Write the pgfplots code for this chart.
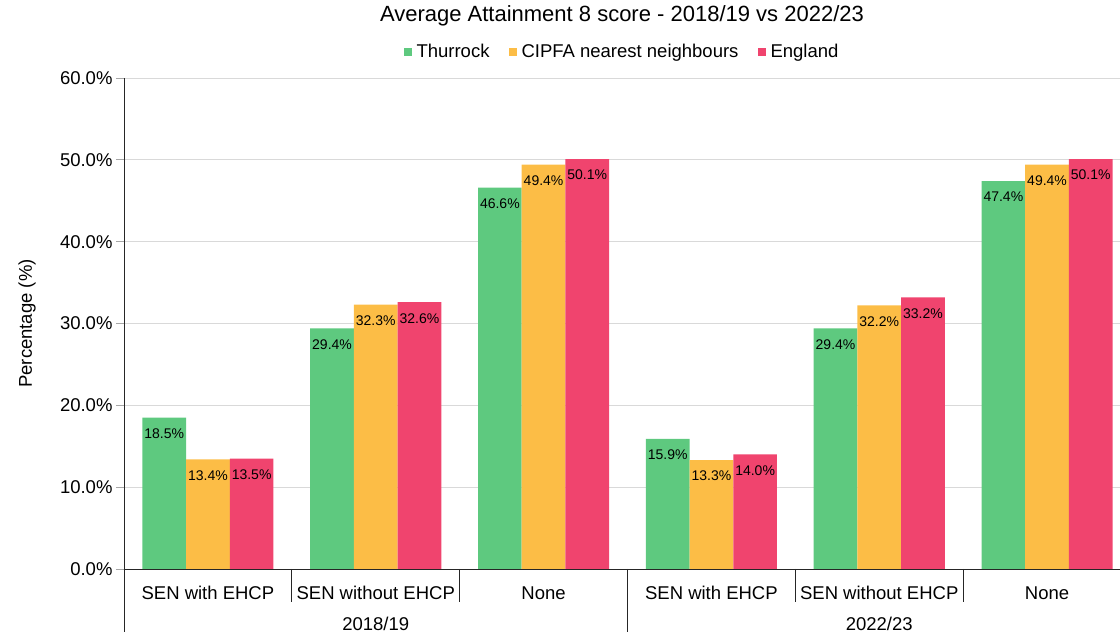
\documentclass[border=0pt]{standalone}
\usepackage{fontspec}
\setmainfont{Liberation Sans}
\usepackage{pgfplots}
\pgfplotsset{compat=1.18}
\definecolor{cgreen}{HTML}{5EC97F}
\definecolor{cyellow}{HTML}{FCBD46}
\definecolor{cred}{HTML}{F0446E}
\begin{document}
\begin{tikzpicture}
\begin{axis}[
  scale only axis,
  width=1007pt, height=491pt,
  xmin=-0.5, xmax=5.5,
  ymin=0, ymax=60,
  clip=false,
  ybar=0pt, bar width=43.7pt,
  axis x line*=bottom, axis y line*=left,
  axis line style={-, black!85, line width=0.9pt},
  /pgf/number format/assume math mode=true,
  xtick={0,1,2,3,4,5},
  xticklabels={SEN with EHCP, SEN without EHCP, None, SEN with EHCP, SEN without EHCP, None},
  x tick style={draw=none},
  xticklabel style={font=\fontsize{18.5}{20}\selectfont, anchor=base, yshift=-22pt},
  ytick={0,10,20,30,40,50,60},
  yticklabel={\pgfmathprintnumber[fixed,fixed zerofill,precision=1]{\tick}\%},
  yticklabel style={font=\fontsize{18.5}{20}\selectfont},
  tick align=outside,
  major tick length=8pt,
  y tick style={gray!70, line width=0.8pt},
  ymajorgrids,
  grid style={gray!30, line width=0.8pt},
  ylabel={Percentage (\%)},
  ylabel style={at={(axis description cs:-0.0963,0.5)}, anchor=center, font=\fontsize{18.5}{20}\selectfont},
  title={Average Attainment 8 score - 2018/19 vs 2022/23},
  title style={at={(axis description cs:0.4945,1)}, anchor=base, yshift=50pt, font=\fontsize{22}{24}\selectfont},
  legend style={at={(axis description cs:0.4945,1)}, anchor=center, yshift=26pt, draw=none, fill=none,
    font=\fontsize{18.5}{20}\selectfont, /tikz/every even column/.append style={column sep=17pt}},
  legend columns=-1,
  legend image code/.code={\fill[#1] (0pt,-4pt) rectangle (8pt,4pt); \path (11pt,0pt);},
  nodes near coords={\pgfmathprintnumber[fixed,fixed zerofill,precision=1]{\pgfplotspointmeta}\%},
  nodes near coords align={center},
  every node near coord/.append style={font=\fontsize{14}{16}\selectfont, text=black, yshift=-16pt},
]
\addplot[fill=cgreen, draw=none] coordinates {(0,18.5) (1,29.4) (2,46.6) (3,15.9) (4,29.4) (5,47.4)};
\addplot[fill=cyellow, draw=none] coordinates {(0,13.4) (1,32.3) (2,49.4) (3,13.3) (4,32.2) (5,49.4)};
\addplot[fill=cred, draw=none] coordinates {(0,13.5) (1,32.6) (2,50.1) (3,14.0) (4,33.2) (5,50.1)};
\legend{Thurrock, CIPFA nearest neighbours, England}
\coordinate (O) at (axis cs:-0.5,0);
\draw[black!85, line width=0.9pt] (axis cs:0.5,0) -- ([yshift=-33pt]axis cs:0.5,0);
\draw[black!85, line width=0.9pt] (axis cs:1.5,0) -- ([yshift=-33pt]axis cs:1.5,0);
\draw[black!85, line width=0.9pt] (axis cs:3.5,0) -- ([yshift=-33pt]axis cs:3.5,0);
\draw[black!85, line width=0.9pt] (axis cs:4.5,0) -- ([yshift=-33pt]axis cs:4.5,0);
\draw[black!85, line width=0.9pt] (axis cs:-0.5,0) -- ([yshift=-63pt]axis cs:-0.5,0);
\draw[black!85, line width=0.9pt] (axis cs:2.5,0) -- ([yshift=-63pt]axis cs:2.5,0);
\draw[black!85, line width=0.9pt] (axis cs:5.5,0) -- ([yshift=-63pt]axis cs:5.5,0);
\node[anchor=base, font=\fontsize{18.5}{20}\selectfont, yshift=-61pt] at (axis cs:1,0) {2018/19};
\node[anchor=base, font=\fontsize{18.5}{20}\selectfont, yshift=-61pt] at (axis cs:4,0) {2022/23};
\end{axis}
\pgfresetboundingbox
\path[use as bounding box] (O) ++(-124pt,-63pt) rectangle ++(1120pt,632pt);
\end{tikzpicture}
\end{document}
